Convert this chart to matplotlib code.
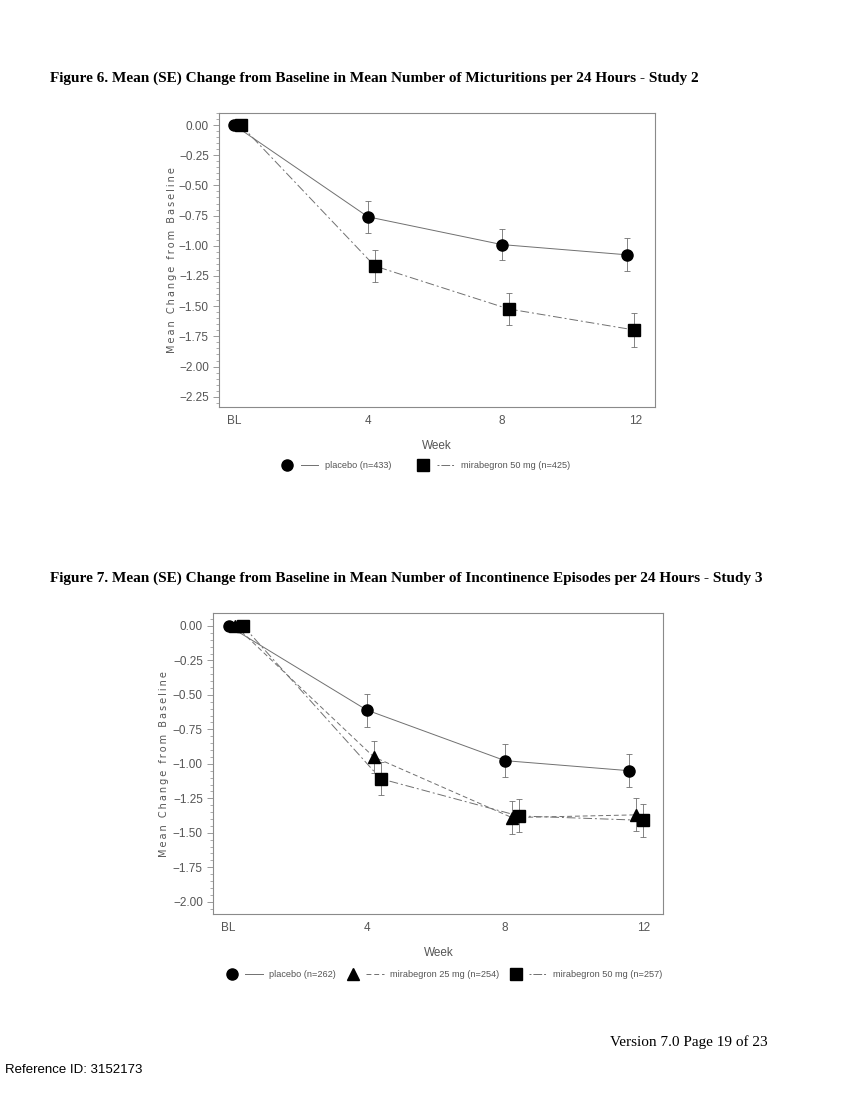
import matplotlib
matplotlib.use("Agg")
import matplotlib.pyplot as plt
from matplotlib.lines import Line2D
from matplotlib.legend_handler import HandlerTuple
from matplotlib.ticker import MultipleLocator

# Figure 6 - micturitions, Study 2
week_ticks = [0, 4, 8, 12]
week_labels = ["BL", "4", "8", "12"]

f6_pbo_x = [0, 4.0, 8.0, 11.75]
f6_pbo_y = [0.0, -0.76, -0.99, -1.075]
f6_pbo_se = [0.0, 0.13, 0.128, 0.137]

f6_m50_x = [0.2, 4.2, 8.2, 11.95]
f6_m50_y = [0.0, -1.167, -1.523, -1.697]
f6_m50_se = [0.0, 0.13, 0.13, 0.138]

# Figure 7 - incontinence episodes, Study 3
f7_pbo_x = [0, 4.0, 8.0, 11.6]
f7_pbo_y = [0.0, -0.61, -0.977, -1.05]
f7_pbo_se = [0.0, 0.12, 0.118, 0.12]

f7_m25_x = [0.2, 4.2, 8.2, 11.8]
f7_m25_y = [0.0, -0.95, -1.39, -1.37]
f7_m25_se = [0.0, 0.115, 0.12, 0.12]

f7_m50_x = [0.42, 4.4, 8.4, 12.0]
f7_m50_y = [0.0, -1.108, -1.378, -1.41]
f7_m50_se = [0.0, 0.118, 0.12, 0.12]

LINE = "#707070"
FRAME = "#8a8a8a"
TXT = "#555555"
TICKFONT = ["Liberation Sans", "DejaVu Sans"]

fig = plt.figure(figsize=(8.5, 11), dpi=100)

dashdot = (0, (9, 3, 2, 3))
dashed = (0, (5, 3))
leg_dashdot = (0, (2, 2, 9, 2))


def spaced(s):
    return "\u2009".join(s)


def draw(ax, series, ylim, yticks, ypad):
    for x, y, se, mk, ls in series:
        ax.errorbar(x, y, yerr=se, fmt="none", ecolor=LINE, elinewidth=0.6,
                    capsize=2.5, capthick=0.6, zorder=2)
        ax.plot(x, y, color=LINE, lw=0.7, linestyle=ls, zorder=2)
        ax.plot(x, y, linestyle="none", marker=mk, color="black",
                markersize=8 if mk != "^" else 8.5, zorder=3)
    ax.set_xlim(-0.44, 12.58)
    ax.set_ylim(*ylim)
    ax.set_xticks(week_ticks)
    ax.set_xticklabels(week_labels)
    ax.set_yticks(yticks)
    ax.set_yticklabels([("%.2f" % v).replace("-", "\u2212") for v in yticks])
    ax.yaxis.set_minor_locator(MultipleLocator(0.05))
    ax.tick_params(axis="x", length=0, pad=6, labelsize=8.5, labelcolor=TXT)
    ax.tick_params(axis="y", which="major", length=4, width=0.6, color=FRAME,
                   labelsize=8.5, labelcolor=TXT)
    ax.tick_params(axis="y", which="minor", length=2, width=0.5, color=FRAME)
    for lab in ax.get_xticklabels() + ax.get_yticklabels():
        lab.set_family(TICKFONT)
    for sp in ax.spines.values():
        sp.set_color(FRAME)
        sp.set_linewidth(0.8)
    ax.set_xlabel("Week", fontsize=8.5, color=TXT, family=TICKFONT, labelpad=9)
    ax.set_ylabel(spaced("Mean Change from Baseline"), fontsize=7, color=TXT,
                  labelpad=ypad)


def legend(ax, handles, labels, x, y, colsp):
    leg = ax.legend(handles, labels,
                    handler_map={tuple: HandlerTuple(ndivide=None, pad=0.5)},
                    loc="upper center", bbox_to_anchor=(x, y), ncol=len(labels),
                    frameon=False, fontsize=6.6, handlelength=4.3,
                    columnspacing=colsp, handletextpad=0.7)
    for t in leg.get_texts():
        t.set_color(TXT)
        t.set_family(TICKFONT)


def handle(mk, ls):
    return (Line2D([], [], ls="none", marker=mk, color="black", markersize=8),
            Line2D([], [], color=LINE, lw=0.7, linestyle=ls))


# ---- Figure 6
fig.text(50 / 850, 1 - 78 / 1100,
         "Figure 6. Mean (SE) Change from Baseline in Mean Number of Micturitions per 24 Hours - Study 2",
         family="Liberation Serif", weight="bold", fontsize=11, va="center")
ax1 = fig.add_axes([0.258, 0.63, 0.5129, 0.2673])
draw(ax1, [(f6_pbo_x, f6_pbo_y, f6_pbo_se, "o", "-"),
           (f6_m50_x, f6_m50_y, f6_m50_se, "s", dashdot)],
     (-2.335, 0.10), [0, -0.25, -0.5, -0.75, -1.0, -1.25, -1.5, -1.75, -2.0, -2.25], 1)
legend(ax1, [handle("o", "-"), handle("s", leg_dashdot)],
       ["placebo (n=433)", "mirabegron 50 mg (n=425)"], 0.47, -0.155, 2.6)

# ---- Figure 7
fig.text(50 / 850, 1 - 578 / 1100,
         "Figure 7. Mean (SE) Change from Baseline in Mean Number of Incontinence Episodes per 24 Hours - Study 3",
         family="Liberation Serif", weight="bold", fontsize=11, va="center")
ax2 = fig.add_axes([0.251, 0.1691, 0.5294, 0.2734])
draw(ax2, [(f7_pbo_x, f7_pbo_y, f7_pbo_se, "o", "-"),
           (f7_m25_x, f7_m25_y, f7_m25_se, "^", dashed),
           (f7_m50_x, f7_m50_y, f7_m50_se, "s", dashdot)],
     (-2.089, 0.092), [0, -0.25, -0.5, -0.75, -1.0, -1.25, -1.5, -1.75, -2.0], 3)
legend(ax2, [handle("o", "-"), handle("^", dashed), handle("s", leg_dashdot)],
       ["placebo (n=262)", "mirabegron 25 mg (n=254)", "mirabegron 50 mg (n=257)"],
       0.51, -0.16, 0.9)

fig.text(768 / 850, 1 - 1042 / 1100, "Version 7.0 Page 19 of 23",
         family="Liberation Serif", fontsize=11, ha="right", va="center")
fig.text(5 / 850, 1 - 1070 / 1100, "Reference ID: 3152173",
         family="Liberation Sans", fontsize=9.5, ha="left", va="center")

fig.savefig("out.png", dpi=100)
